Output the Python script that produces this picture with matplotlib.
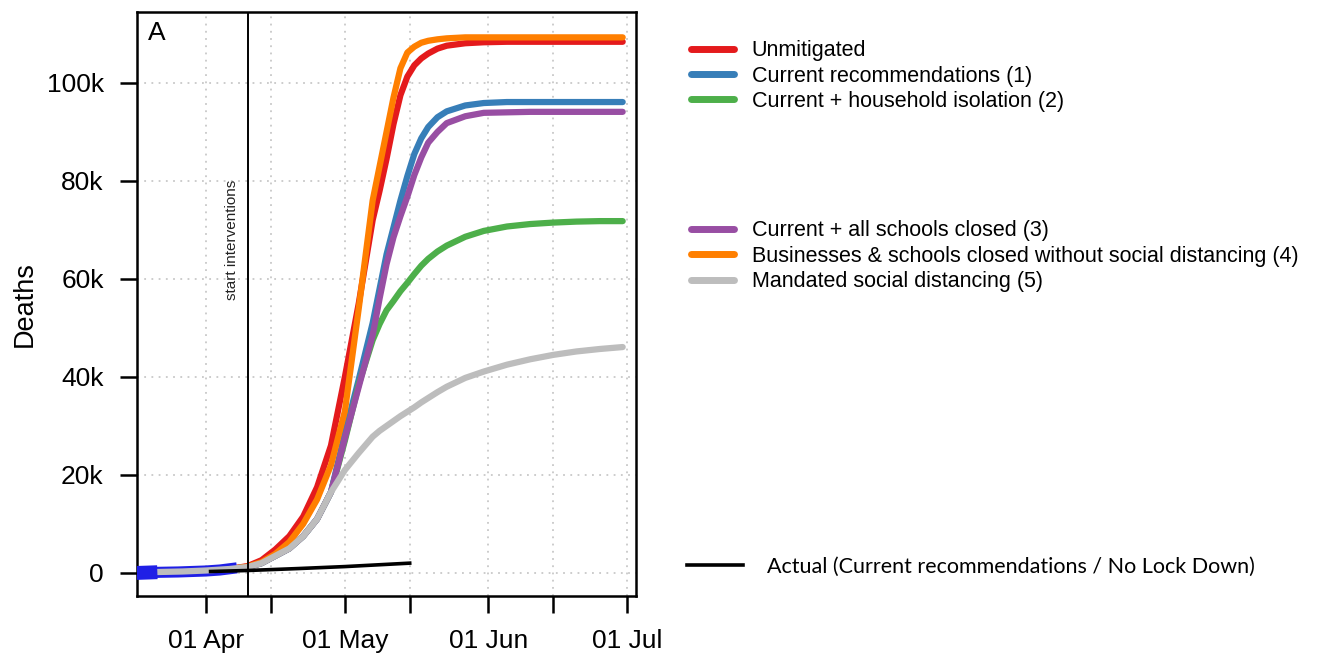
import pandas as pd
import matplotlib
matplotlib.use("Agg")
import matplotlib.pyplot as plt
import matplotlib.dates as mdates
from matplotlib.lines import Line2D
from matplotlib.ticker import FuncFormatter

plt.rcParams['font.family'] = ['Liberation Sans', 'DejaVu Sans']

START = pd.Timestamp('2020-04-01')

# model days are counted from 01 Apr, deaths in thousands
model_days = [-15, -10, -5, 0, 5, 9, 12, 15, 18, 21, 24, 27, 30, 33, 36,
              37.5, 39, 40.5, 42, 43.5, 45, 46.5, 48, 50, 52, 56, 60,
              65, 70, 75, 80, 85, 90]
unmitigated = [0.1, 0.2, 0.3, 0.5, 0.8, 1.4, 2.6, 4.8, 7.5, 11.5, 17.5, 26.0,
               40.0, 55.0, 72.0, 78.0, 84.5, 91.6, 97.5, 101.3, 103.6, 105.0,
               106.0, 107.0, 107.6, 108.1, 108.3, 108.4, 108.4, 108.4, 108.4,
               108.4, 108.4]
current_rec = [0.1, 0.2, 0.3, 0.5, 0.8, 1.2, 2.0, 3.5, 5.0, 7.5, 11.0, 16.5,
               28.5, 39.5, 51.0, 58.0, 65.0, 70.5, 76.0, 81.0, 85.5, 88.7,
               91.0, 93.0, 94.2, 95.4, 95.9, 96.1, 96.1, 96.1, 96.1, 96.1, 96.1]
household = [0.1, 0.2, 0.3, 0.5, 0.8, 1.2, 2.0, 3.5, 5.0, 7.5, 11.0, 16.5,
             27.0, 38.5, 47.5, 50.8, 53.6, 55.5, 57.5, 59.2, 61.0, 62.7,
             64.1, 65.6, 66.8, 68.6, 69.8, 70.7, 71.2, 71.5, 71.7, 71.8, 71.8]
schools = [0.1, 0.2, 0.3, 0.5, 0.8, 1.2, 2.0, 3.5, 5.0, 7.5, 11.0, 16.5,
           27.5, 38.0, 48.5, 56.0, 63.0, 68.5, 72.8, 76.8, 81.2, 84.8,
           87.8, 90.0, 91.8, 93.2, 93.9, 94.0, 94.1, 94.1, 94.1, 94.1, 94.1]
business = [0.1, 0.2, 0.3, 0.5, 0.8, 1.3, 2.2, 3.9, 6.3, 10.0, 15.0, 22.0,
            33.0, 54.0, 76.0, 83.0, 90.0, 97.0, 103.0, 106.2, 107.4, 108.2,
            108.6, 108.9, 109.1, 109.3, 109.3, 109.3, 109.3, 109.3, 109.3,
            109.3, 109.3]
distancing = [0.1, 0.2, 0.3, 0.5, 0.8, 1.2, 2.0, 3.5, 5.0, 7.5, 11.0, 16.5,
              21.0, 24.5, 27.8, 29.0, 30.0, 31.0, 32.0, 32.9, 33.8, 34.8,
              35.7, 36.9, 38.0, 39.8, 41.1, 42.5, 43.6, 44.5, 45.2, 45.7, 46.1]

# observed deaths used for fitting (blue band)
fit_days = [-15, -12, -6, 0, 3, 5.5]
fit_deaths = [0.0, 0.1, 0.2, 0.4, 0.6, 0.9]

# actual deaths
actual_days = [1, 9, 20, 30, 44]
actual_deaths = [0.3, 0.5, 0.9, 1.3, 2.0]

intervention_day = 9

scenarios = [
    ('Unmitigated', unmitigated, '#e41a1c'),
    ('Current recommendations (1)', current_rec, '#377eb8'),
    ('Current + household isolation (2)', household, '#4daf4a'),
    ('Current + all schools closed (3)', schools, '#984ea3'),
    ('Businesses & schools closed without social distancing (4)', business, '#ff7f00'),
    ('Mandated social distancing (5)', distancing, '#bdbdbd'),
]


def to_dates(days):
    return START + pd.to_timedelta(days, unit='D')


fig = plt.figure(figsize=(13.17, 6.6), dpi=100)
ax = fig.add_axes([0.104, 0.097, 0.379, 0.885])

mdays = to_dates(model_days)
for label, vals, col in scenarios[:5]:
    ax.plot(mdays, vals, color=col, lw=4.5, solid_capstyle='round',
            solid_joinstyle='round', zorder=2)

fd = to_dates(fit_days)
ax.plot(fd, fit_deaths, color='#1f1fe6', lw=8, zorder=3)
label, vals, col = scenarios[5]
ax.plot(mdays, vals, color=col, lw=4.5, solid_capstyle='round',
        solid_joinstyle='round', zorder=4)
ax.plot(fd[:2], fit_deaths[:2], color='#1f1fe6', lw=10, zorder=5)

ax.plot(to_dates(actual_days), actual_deaths, color='black', lw=2.6, zorder=6)

iv = START + pd.Timedelta(days=intervention_day)
ax.axvline(iv, color='black', lw=1.4, zorder=6)
ax.text(START + pd.Timedelta(days=5.6), 68, 'start interventions', rotation=90,
        ha='center', va='center', fontsize=11, color='#222222')

ax.text(0.022, 0.985, 'A', transform=ax.transAxes, fontsize=19,
        ha='left', va='top')

ax.set_xlim(START - pd.Timedelta(days=14.9), START + pd.Timedelta(days=92.9))
ax.set_ylim(-4.7, 114.5)

ax.xaxis.set_major_locator(mdates.MonthLocator(bymonthday=1))
ax.xaxis.set_minor_locator(mdates.MonthLocator(bymonthday=15))
ax.xaxis.set_major_formatter(mdates.DateFormatter('%d %b'))
ax.set_yticks([0, 20, 40, 60, 80, 100])
ax.yaxis.set_major_formatter(FuncFormatter(lambda v, p: '0' if v == 0 else f'{v:.0f}k'))

ax.grid(True, which='both', axis='x', color='#c8c8c8', ls=(0, (1, 3)), lw=1.3)
ax.grid(True, which='major', axis='y', color='#c8c8c8', ls=(0, (1, 3)), lw=1.3)
ax.set_axisbelow(True)

ax.tick_params(axis='both', which='both', direction='out', length=12, width=1.8,
               labelsize=19, color='black')
ax.tick_params(axis='x', which='major', pad=12)
ax.tick_params(axis='y', pad=12)
for sp in ax.spines.values():
    sp.set_linewidth(1.8)

ax.set_ylabel('Deaths', fontsize=19.5)
ax.yaxis.set_label_coords(-0.198, 0.5)

handles = [Line2D([], [], color=c, lw=5, solid_capstyle='round') for _, _, c in scenarios]
labels = [l for l, _, _ in scenarios]
common = dict(frameon=False, fontsize=15.5, handlelength=2.0, handletextpad=0.8,
              labelspacing=0.2, borderpad=0, borderaxespad=0, loc='upper left')
fig.legend(handles[:3], labels[:3], bbox_to_anchor=(0.525, 0.939), **common)
fig.legend(handles[3:], labels[3:], bbox_to_anchor=(0.525, 0.666), **common)

fig.legend([Line2D([], [], color='black', lw=2.6)],
           ['Actual (Current recommendations / No Lock Down)'],
           bbox_to_anchor=(0.522, 0.141), loc='center left', frameon=False,
           handlelength=2.6, handletextpad=1.1, borderpad=0, borderaxespad=0,
           prop={'family': ['Lato', 'DejaVu Sans'], 'size': 15.5})

fig.savefig('out.png', dpi=100)
